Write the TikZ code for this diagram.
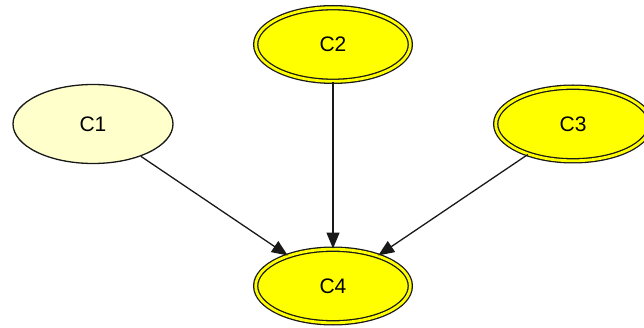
\documentclass[tikz,border=0pt]{standalone}
\usepackage{fontspec}
\setmainfont{Liberation Sans}
\usetikzlibrary{shapes.geometric,arrows.meta}
\definecolor{lightyel}{RGB}{255,255,204}
\definecolor{yel}{RGB}{255,255,0}
\begin{document}
\begin{tikzpicture}[x=1pt,y=-1pt,
  plainell/.style={ellipse,draw=black!90,line width=1.3pt,fill=lightyel,minimum width=160pt,minimum height=79pt,inner sep=0pt,font=\fontsize{21}{25}\selectfont},
  dblell/.style={ellipse,draw=black!90,line width=1.3pt,double=yel,double distance=2.8pt,fill=yel,minimum width=154.6pt,minimum height=73.6pt,inner sep=0pt,font=\fontsize{21}{25}\selectfont},
  conn/.style={draw=black!90,line width=1.3pt,-{Triangle[length=16pt,width=13pt]}}]
\useasboundingbox (0,0) rectangle (644,328);
\begin{scope}
\clip (0,0) rectangle (644,328);
\node[plainell] (c1) at (93,124) {C1};
\node[dblell] (c2) at (333,44.5) {C2};
\node[dblell] (c3) at (573,124) {C3};
\node[dblell] (c4) at (333,286) {C4};
\draw[conn] (c1) -- (c4);
\draw[conn] (c2) -- (c4);
\draw[conn] (c3) -- (c4);
\end{scope}
\end{tikzpicture}
\end{document}
